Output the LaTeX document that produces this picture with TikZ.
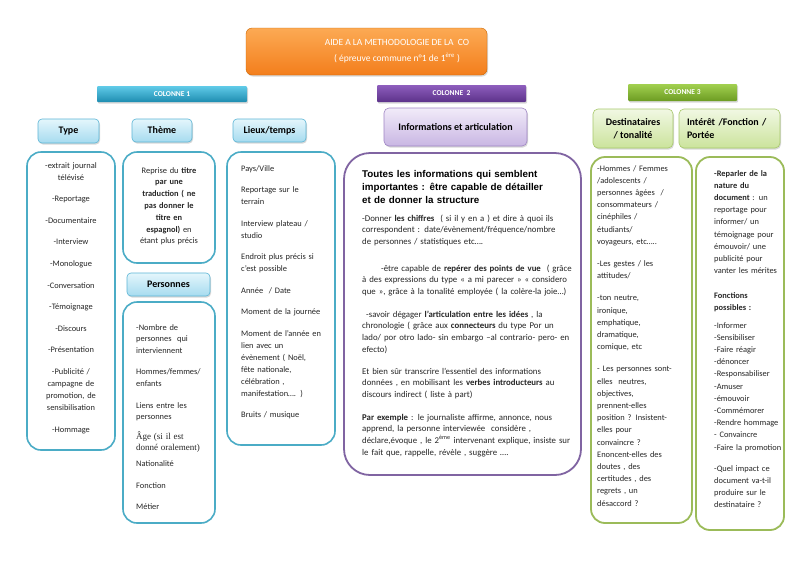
\documentclass[tikz,border=0pt]{standalone}
\usepackage{fontspec}
\setmainfont{Carlito}
\newfontfamily\hfont{Liberation Sans}
\newfontfamily\tfont{Liberation Serif}
\usetikzlibrary{shadows}
\definecolor{tealb}{HTML}{4BACC6}
\definecolor{purpb}{HTML}{8064A2}
\definecolor{greenb}{HTML}{9BBB59}
\tikzset{
  shad/.style={drop shadow={opacity=0.3,shadow xshift=1pt,shadow yshift=-1.5pt}},
  hdrblue/.style={shad,draw=HTMLB,rounded corners=4pt,top color=HTMLBT,bottom color=HTMLBB,line width=0.6pt,font=\fontsize{10}{12}\selectfont\bfseries,inner sep=0pt},
  hdrpurple/.style={shad,draw=HTMLP,rounded corners=5pt,top color=HTMLPT,bottom color=HTMLPB,line width=0.6pt,font=\fontsize{10}{12}\selectfont\bfseries,inner sep=0pt},
  hdrgreen/.style={shad,draw=HTMLG,rounded corners=5pt,top color=HTMLGT,bottom color=HTMLGB,line width=0.6pt,font=\fontsize{10}{12.5}\selectfont\bfseries,inner sep=0pt},
  bar/.style={shad,rounded corners=1pt,text=white,font=\fontsize{7.5}{9}\selectfont\bfseries,inner sep=0pt},
  boxblue/.style={draw=tealb,line width=1.6pt,rounded corners=14pt,fill=white,inner sep=0pt},
  boxpurple/.style={draw=purpb,line width=1.8pt,rounded corners=26pt,fill=white,inner sep=0pt},
  boxgreen/.style={draw=greenb,line width=1.8pt,rounded corners=14pt,fill=white,inner sep=0pt},
  txt/.style={inner sep=0pt,font=\fontsize{8.4}{12}\selectfont,text=black!85},
}
\definecolor{HTMLB}{HTML}{5BB5D5}
\definecolor{HTMLBT}{HTML}{E4F6FC}
\definecolor{HTMLBB}{HTML}{A6DBEF}
\definecolor{HTMLP}{HTML}{9F85C4}
\definecolor{HTMLPT}{HTML}{F1EBF9}
\definecolor{HTMLPB}{HTML}{C9B6E3}
\definecolor{HTMLG}{HTML}{A7C86A}
\definecolor{HTMLGT}{HTML}{F1F8E3}
\definecolor{HTMLGB}{HTML}{CBE39C}
\begin{document}
\begin{tikzpicture}[x=1pt,y=-1pt]
\useasboundingbox[fill=white] (0,0) rectangle (800,566);
% title
\node (title) [shad,draw=orange!80!black,rounded corners=6pt,top color={rgb,255:red,252;green,170;blue,84},bottom color={rgb,255:red,243;green,126;blue,28},minimum width=241pt,minimum height=47pt,inner sep=0pt] at (366.5,51.5) {};
\node (titletxt) [inner sep=0pt,text=white,align=center,font=\fontsize{9.5}{16}\selectfont] at (397,51.5) {AIDE A LA METHODOLOGIE DE LA\ \ CO\\( épreuve commune n°1 de 1\textsuperscript{ère} )};
% column bars
\node (bar1) [bar,top color={rgb,255:red,96;green,203;blue,232},bottom color={rgb,255:red,30;green,140;blue,176},minimum width=150pt,minimum height=16pt] at (172,94) {COLONNE 1};
\node (bar2) [bar,top color={rgb,255:red,142;green,94;blue,189},bottom color={rgb,255:red,92;green,50;blue,138},minimum width=149pt,minimum height=17pt] at (451.5,93.5) {COLONNE\ \ 2};
\node (bar3) [bar,top color={rgb,255:red,162;green,208;blue,80},bottom color={rgb,255:red,108;green,156;blue,34},minimum width=109pt,minimum height=17pt] at (682.5,92.5) {COLONNE 3};
% headers
\node (htype) [hdrblue,minimum width=61pt,minimum height=24pt] at (68.5,131) {Type};
\node (htheme) [hdrblue,minimum width=60pt,minimum height=23pt] at (162,130.5) {Thème};
\node (hlieux) [hdrblue,minimum width=73pt,minimum height=23pt] at (269.5,130.5) {Lieux/temps};
\node (hpers) [hdrblue,minimum width=83pt,minimum height=23pt] at (168.5,284.5) {Personnes};
\node (hinfo) [hdrpurple,minimum width=143pt,minimum height=38pt] at (455.5,127) {Informations et articulation};
\node (hdest) [hdrgreen,minimum width=80pt,minimum height=39pt,align=center] at (633,128.5) {Destinataires\\/ tonalité};
\node (hint) [hdrgreen,minimum width=101pt,minimum height=39pt,text width=85pt,align=left] at (729.5,128.5) {Intérêt /Fonction /\\Portée};
% content boxes
\node (btype) [boxblue,minimum width=88pt,minimum height=298pt] at (71,301) {};
\node (btheme) [boxblue,minimum width=92pt,minimum height=111pt] at (169,207.5) {};
\node (bpers) [boxblue,minimum width=92pt,minimum height=221pt] at (169,412.5) {};
\node (blieux) [boxblue,minimum width=108pt,minimum height=293pt] at (281,298.5) {};
\node (binfo) [boxpurple,minimum width=237pt,minimum height=322pt] at (462.5,314) {};
\node (bdest) [boxgreen,minimum width=101pt,minimum height=366pt] at (641.5,340) {};
\node (bint) [boxgreen,minimum width=88pt,minimum height=373pt] at (740,343.5) {};
% texts column 1
\node (ttype) [txt,text width=86pt,align=center,anchor=base] at (71,168) {-extrait journal\\télévisé\\[9.6pt]-Reportage\\[9.6pt]-Documentaire\\[9.6pt]-Interview\\[9.6pt]-Monologue\\[9.6pt]-Conversation\\[9.6pt]-Témoignage\\[9.6pt]-Discours\\[9.6pt]-Présentation\\[9.6pt]-Publicité /\\campagne de\\promotion, de\\sensibilisation\\[9.6pt]-Hommage};
\node (ttheme) [txt,text width=90pt,align=center,anchor=base,font=\fontsize{8.4}{11.8}\selectfont] at (169,173) {Reprise du \textbf{titre}\\\textbf{par une}\\\textbf{traduction ( ne}\\\textbf{pas donner le}\\\textbf{titre en}\\\textbf{espagnol)} en\\étant plus précis};
\node (tpers) [txt,text width=78pt,align=left,anchor=base west,font=\fontsize{8.4}{11.6}\selectfont] at (136,330) {-Nombre de\\personnes\ \ qui\\interviennent\\[10pt]Hommes/femmes/\\enfants\\[10pt]Liens entre les\\personnes\\[8pt]{\tfont\fontsize{9}{11.6}\selectfont Âge (si il est}\\{\tfont\fontsize{9}{11.6}\selectfont donné oralement)}\\[3.8pt]Nationalité\\[10.4pt]Fonction\\[9.4pt]Métier};
\node (tlieux) [txt,text width=92pt,align=left,anchor=base west] at (241,171) {Pays/Ville\\[9.5pt]Reportage sur le\\terrain\\[9.5pt]Interview plateau /\\studio\\[9.5pt]Endroit plus précis si\\c’est possible\\[9.5pt]Année\ \ / Date\\[9.5pt]Moment de la journée\\[9.5pt]Moment de l’année en\\lien avec un\\évènement ( Noël,\\fête nationale,\\célébration ,\\manifestation…. )\\[9.5pt]Bruits / musique};
% column 2
\node (thead) [inner sep=0pt,text width=225pt,align=left,anchor=base west,font=\hfont\fontsize{9.8}{13}\selectfont\bfseries] at (362,177.5) {Toutes les informations qui semblent\\importantes : être capable de détailler\\et de donner la structure};
\node (tinfo) [txt,text width=225pt,align=left,anchor=base west,font=\fontsize{8.8}{11.7}\selectfont] at (362,221) {-Donner \textbf{les chiffres}\ \ ( si il y en a ) et dire à quoi ils\\correspondent : date/évènement/fréquence/nombre\\de personnes / statistiques etc….\\[14.9pt]\hspace*{19pt}-être capable de \textbf{repérer des points de vue}\ \ ( grâce\\à des expressions du type « a mi parecer » « considero\\que », grâce à la tonalité employée ( la colère-la joie…)\\[10.9pt]\hspace*{4pt}-savoir dégager \textbf{l’articulation entre les idées} , la\\chronologie ( grâce aux \textbf{connecteurs} du type Por un\\lado/ por otro lado- sin embargo –al contrario- pero- en\\efecto)\\[10.2pt]Et bien sûr transcrire l’essentiel des informations\\données , en mobilisant les \textbf{verbes introducteurs} au\\discours indirect ( liste à part)\\[10.9pt]\textbf{Par exemple} : le journaliste affirme, annonce, nous\\apprend, la personne interviewée\ \ considère ,\\déclare,évoque , le 2\textsuperscript{ème} intervenant explique, insiste sur\\le fait que, rappelle, révèle , suggère ….};
% column 3
\node (tdest) [txt,text width=92pt,align=left,anchor=base west,font=\fontsize{8.4}{12.2}\selectfont] at (597,171) {-Hommes / Femmes\\/adolescents /\\personnes âgées\ \ /\\consommateurs /\\cinéphiles /\\étudiants/\\voyageurs, etc…..\\[10pt]-Les gestes / les\\attitudes/\\[10pt]-ton neutre,\\ironique,\\emphatique,\\dramatique,\\comique, etc\\[10pt]- Les personnes sont-\\elles\ \ neutres,\\objectives,\\prennent-elles\\position ? Insistent-\\elles pour\\convaincre ?\\Enoncent-elles des\\doutes , des\\certitudes , des\\regrets , un\\désaccord ?};
\node (tint) [txt,text width=80pt,align=left,anchor=base west,font=\fontsize{8.4}{12.2}\selectfont] at (714,176) {\textbf{-Reparler de la}\\\textbf{nature du}\\\textbf{document} : un\\reportage pour\\informer/ un\\témoignage pour\\émouvoir/ une\\publicité pour\\vanter les mérites\\[12.2pt]\textbf{Fonctions}\\\textbf{possibles :}\\[5.6pt]-Informer\\-Sensibiliser\\-Faire réagir\\-dénoncer\\-Responsabiliser\\-Amuser\\-émouvoir\\-Commémorer\\-Rendre hommage\\- Convaincre\\-Faire la promotion\\[8.8pt]-Quel impact ce\\document va-t-il\\produire sur le\\destinataire ?};
\end{tikzpicture}
\end{document}
